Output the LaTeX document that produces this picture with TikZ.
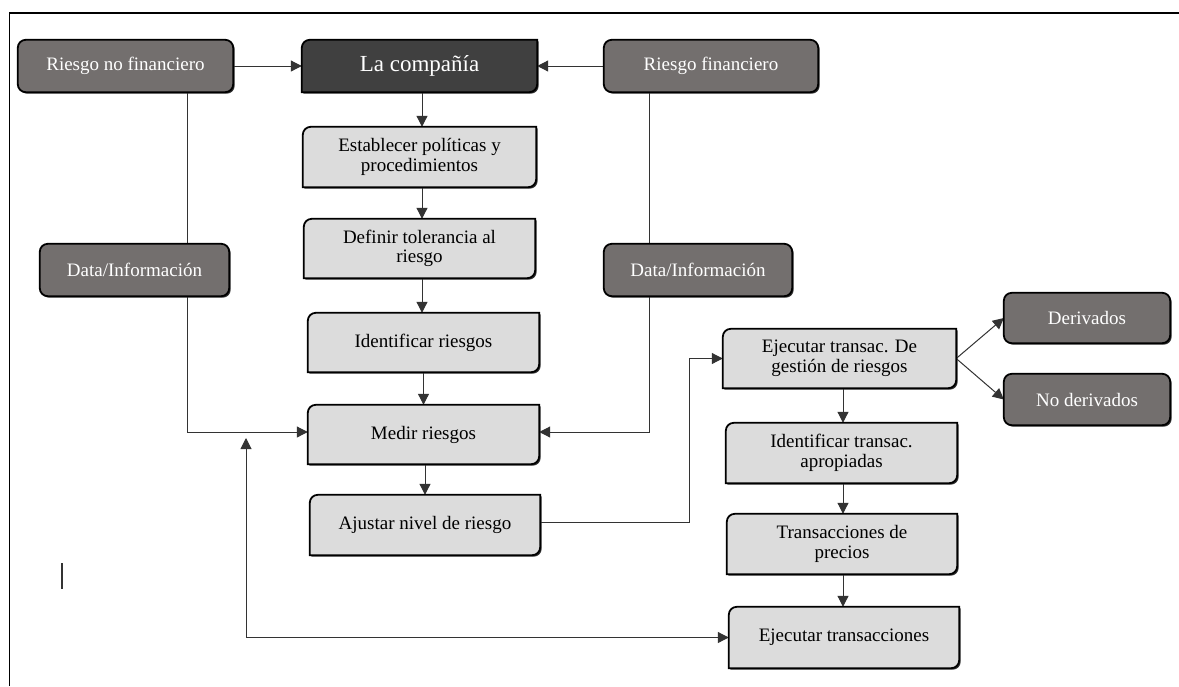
\documentclass[tikz,border=0pt]{standalone}
\usepackage{fontspec}
\setmainfont{Liberation Serif}
\usetikzlibrary{arrows.meta,calc}
\pgfdeclarelayer{lines}
\pgfdeclarelayer{boxes}
\pgfsetlayers{lines,boxes,main}
\definecolor{darkbox}{HTML}{736F6E}
\definecolor{lightbox}{HTML}{DCDCDC}
\definecolor{compbox}{HTML}{404040}
\definecolor{linecol}{HTML}{333333}
\tikzset{
  txt/.style={align=center, inner sep=0pt, font=\fontsize{19}{19.5}\selectfont},
  darkn/.style 2 args={txt, text=white, minimum width=#1, minimum height=#2},
  lightn/.style 2 args={txt, text=black, minimum width=#1, minimum height=#2},
  con/.style={draw=linecol, line width=1pt},
  arr/.style={con, -{Triangle[length=11pt,width=11pt]}},
  boxline/.style={draw=black, line width=1.8pt},
}
\newcommand\snipshape[2]{%
  \fill[black!80] ($(#1.north west)+(1.5,-9.5)$) arc[start angle=180,end angle=90,radius=8] -- ($(#1.north east)+(1.5,-1.5)$) -- ($(#1.south east)+(1.5,6.5)$) arc[start angle=0,end angle=-90,radius=8] -- ($(#1.south west)+(1.5,-1.5)$) -- cycle;
  \draw[boxline, fill=#2] ($(#1.north west)+(0,-8)$) arc[start angle=180,end angle=90,radius=8] -- (#1.north east) -- ($(#1.south east)+(0,8)$) arc[start angle=0,end angle=-90,radius=8] -- (#1.south west) -- cycle;}
\newcommand\roundshape[2]{%
  \fill[black!80, rounded corners=8pt] ($(#1.north west)+(1.5,-1.5)$) rectangle ($(#1.south east)+(1.5,-1.5)$);
  \draw[boxline, fill=#2, rounded corners=8pt] (#1.north west) rectangle (#1.south east);}
\begin{document}
\begin{tikzpicture}[x=1pt,y=1pt]
\useasboundingbox (0,0) rectangle (1179,-686);
% frame
\draw[line width=1.6pt] (9.5,-686) -- (9.5,-13) -- (1179,-13);
\draw[line width=1.2pt, linecol] (62,-563) -- (62,-589);
% nodes
\node[darkn={215pt}{52pt}] (rnf) at (125.5,-66) {Riesgo no financiero};
\node[darkn={235pt}{52pt}, font=\fontsize{23}{20}\selectfont] (comp) at (419.5,-66) {La compañía};
\node[darkn={214pt}{52pt}] (rf) at (711,-66) {Riesgo financiero};
\node[lightn={233pt}{60pt}] (est) at (419.5,-157) {Establecer políticas y\\procedimientos};
\node[lightn={231pt}{59pt}] (def) at (419.5,-248.5) {Definir tolerancia al\\riesgo};
\node[lightn={231pt}{59pt}] (idr) at (423.5,-342.5) {Identificar riesgos};
\node[lightn={231pt}{59pt}] (med) at (423.5,-434.5) {Medir riesgos};
\node[lightn={230pt}{60pt}] (aju) at (425,-525) {Ajustar nivel de riesgo};
\node[darkn={189pt}{52pt}] (datL) at (134.5,-270) {Data/Información};
\node[darkn={188pt}{52pt}] (datR) at (698,-270) {Data/Información};
\node[lightn={233pt}{59pt}] (ejd) at (839.5,-358.5) {Ejecutar transac. De\\gestión de riesgos};
\node[darkn={166pt}{50pt}] (der) at (1087,-318) {Derivados};
\node[darkn={166pt}{51pt}] (nod) at (1087,-399.5) {No derivados};
\node[lightn={231pt}{60pt}] (idt) at (841.5,-453) {Identificar transac.\\apropiadas};
\node[lightn={230pt}{60pt}] (trp) at (842,-544) {Transacciones de\\precios};
\node[lightn={230pt}{61pt}] (ejt) at (844,-637.5) {Ejecutar transacciones};
% shapes
\begin{pgfonlayer}{boxes}
\roundshape{rnf}{darkbox}
\roundshape{rf}{darkbox}
\roundshape{datL}{darkbox}
\roundshape{datR}{darkbox}
\roundshape{der}{darkbox}
\roundshape{nod}{darkbox}
\snipshape{comp}{compbox}
\snipshape{est}{lightbox}
\snipshape{def}{lightbox}
\snipshape{idr}{lightbox}
\snipshape{med}{lightbox}
\snipshape{aju}{lightbox}
\snipshape{ejd}{lightbox}
\snipshape{idt}{lightbox}
\snipshape{trp}{lightbox}
\snipshape{ejt}{lightbox}
\end{pgfonlayer}
% connectors
\coordinate (colA) at (422,0);
\coordinate (colB) at (843,0);
\coordinate (jog) at (689,0);
\coordinate (fb) at (246,-438);
\begin{pgfonlayer}{lines}
\draw[arr] (rnf.east) -- (comp.west);
\draw[arr] (rf.west) -- (comp.east);
\draw[arr] (comp.south -| colA) -- (est.north -| colA);
\draw[arr] (est.south -| colA) -- (def.north -| colA);
\draw[arr] (def.south -| colA) -- (idr.north -| colA);
\draw[arr] (idr.south) -- (med.north);
\draw[arr] (med.south -| aju.north) -- (aju.north);
\draw[arr] ([xshift=61.5pt]rnf.south) |- ([yshift=2.5pt]med.west);
\draw[arr] ([xshift=-62pt]rf.south) |- ([yshift=2.5pt]med.east);
\draw[arr] ([yshift=3pt]aju.east) -| (jog |- ejd.west) -- (ejd.west);
\draw[arr] (ejd.east) -- (der.west);
\draw[arr] (ejd.east) -- (nod.west);
\draw[arr] (ejd.south -| colB) -- (idt.north -| colB);
\draw[arr] (idt.south -| colB) -- (trp.north -| colB);
\draw[arr] (trp.south -| colB) -- (ejt.north -| colB);
\draw[con, {Triangle[length=11pt,width=11pt]}-{Triangle[length=11pt,width=11pt]}] (fb) |- (ejt.west);
\end{pgfonlayer}
\end{tikzpicture}
\end{document}
